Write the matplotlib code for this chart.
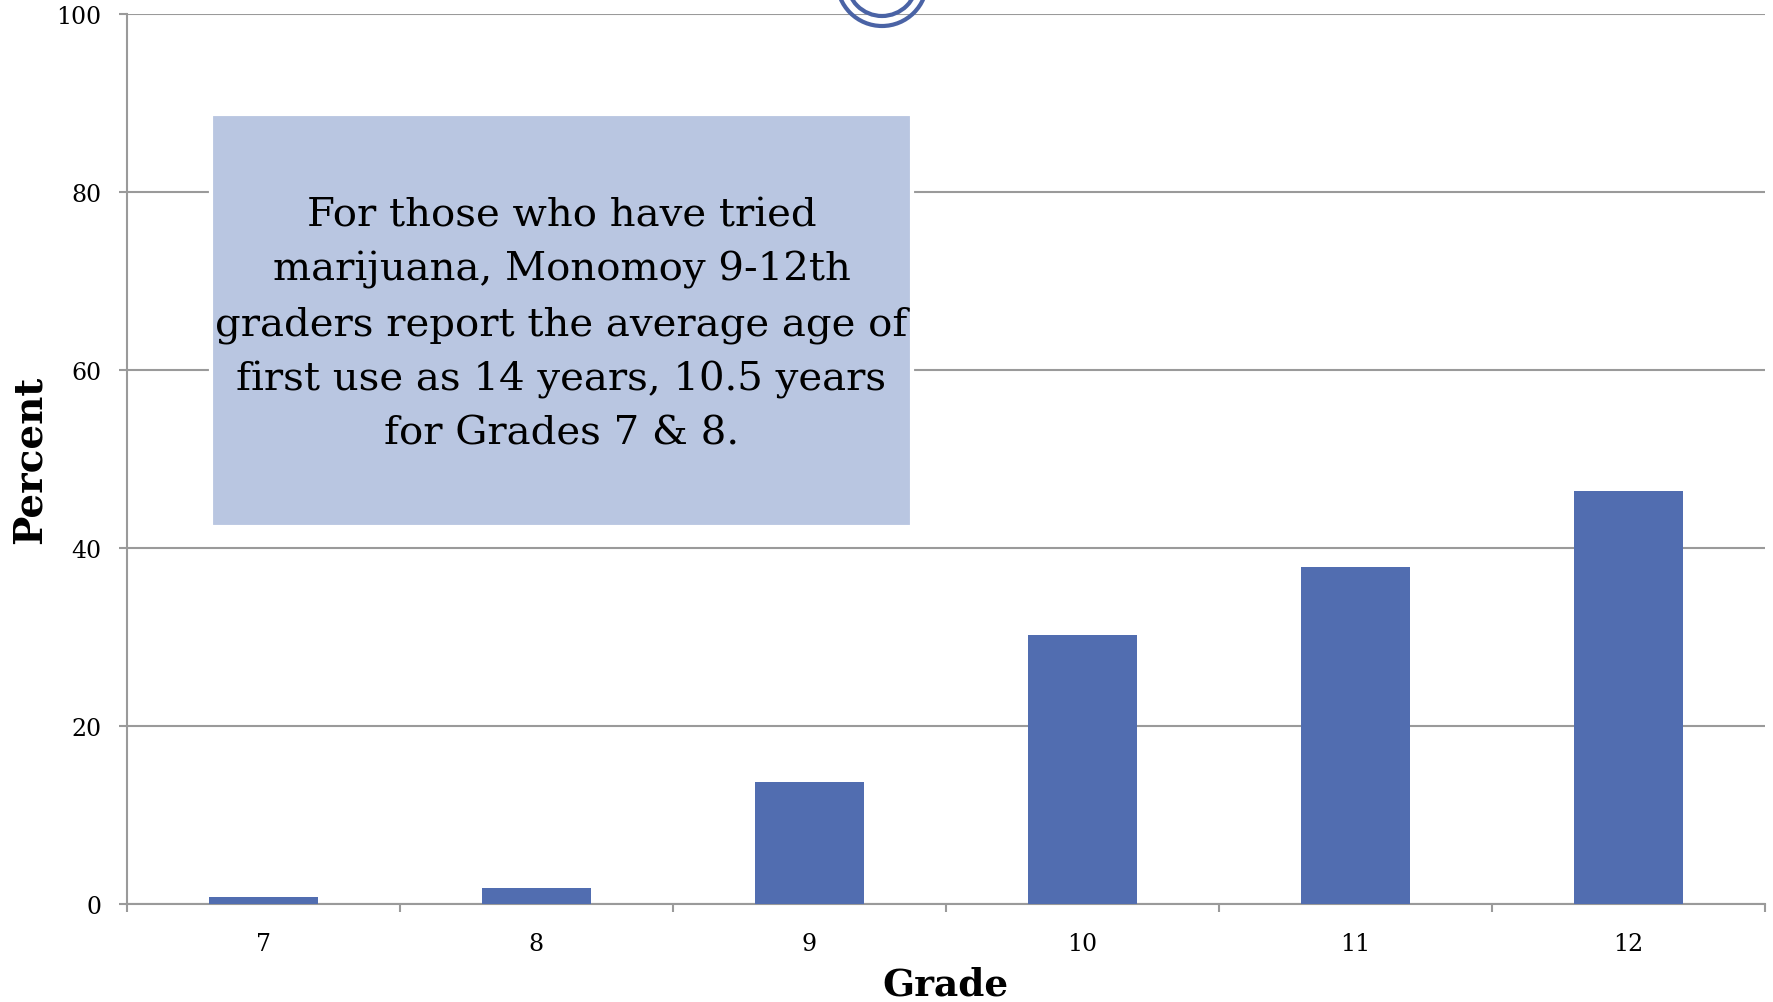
import matplotlib
matplotlib.use("Agg")
import matplotlib.pyplot as plt
from matplotlib.patches import Rectangle, Ellipse
import numpy as np

# data
grades = ["7", "8", "9", "10", "11", "12"]
percent = [0.75, 1.75, 13.7, 30.2, 37.9, 46.4]
y_ticks = [0, 20, 40, 60, 80, 100]

note = ("For those who have tried\n"
        "marijuana, Monomoy 9-12th\n"
        "graders report the average age of\n"
        "first use as 14 years, 10.5 years\n"
        "for Grades 7 & 8.")

bar_col = "#516DB0"
grid_col = "#9A9A9A"
box_col = "#B9C6E1"

plt.rcParams['font.family'] = ['DejaVu Serif']

W, H = 1773, 1003
fig = plt.figure(figsize=(W / 100, H / 100), dpi=100)
ax = fig.add_axes([126.7 / W, 1 - 905 / H, (1765 - 126.7) / W, (905 - 15) / H])

x = np.arange(len(grades))
ax.bar(x, percent, width=0.4, color=bar_col, zorder=3)

ax.set_xlim(-0.5, len(grades) - 0.5)
ax.set_ylim(0, 100)
ax.set_yticks(y_ticks)
ax.set_yticklabels([str(v) for v in y_ticks], fontsize=17)
ax.set_xticks(x)
ax.set_xticklabels(grades, fontsize=17)
ax.set_xticks(np.arange(len(grades) + 1) - 0.5, minor=True)

ax.tick_params(axis='x', which='major', length=0, pad=20)
ax.tick_params(axis='x', which='minor', length=6, width=1.5, color=grid_col, direction='out')
ax.tick_params(axis='y', length=6, width=1.5, color=grid_col, pad=12)

ax.yaxis.grid(True, color=grid_col, linewidth=1.5, zorder=0)
ax.set_axisbelow(True)
for s in ['top', 'right']:
    ax.spines[s].set_visible(False)
for s in ['left', 'bottom']:
    ax.spines[s].set_color(grid_col)
    ax.spines[s].set_linewidth(1.5)

ax.set_xlabel("Grade", fontsize=27, fontweight='bold', labelpad=8)
fig.text(30 / W, 1 - 460 / H, "Percent", rotation=90, ha='center', va='center',
         fontsize=28, fontweight='bold')

# callout box
bx0, bx1, by0, by1 = 211 / W, 912 / W, 1 - 528 / H, 1 - 115 / H
fig.patches.append(Rectangle((bx0, by0), bx1 - bx0, by1 - by0, transform=fig.transFigure,
                             facecolor=box_col, edgecolor='white', linewidth=3, zorder=5))
fig.text((bx0 + bx1) / 2, 1 - 325 / H, note, ha='center', va='center', fontsize=29,
         linespacing=1.58, zorder=6)

# partial logo at top
for r in [45, 35]:
    fig.patches.append(Ellipse((882 / W, 1 + 18 / H), 2 * r / W, 2 * r / H, transform=fig.transFigure,
                               fill=False, edgecolor="#4A63A5", linewidth=3, zorder=6))

fig.savefig("out.png", dpi=100)
